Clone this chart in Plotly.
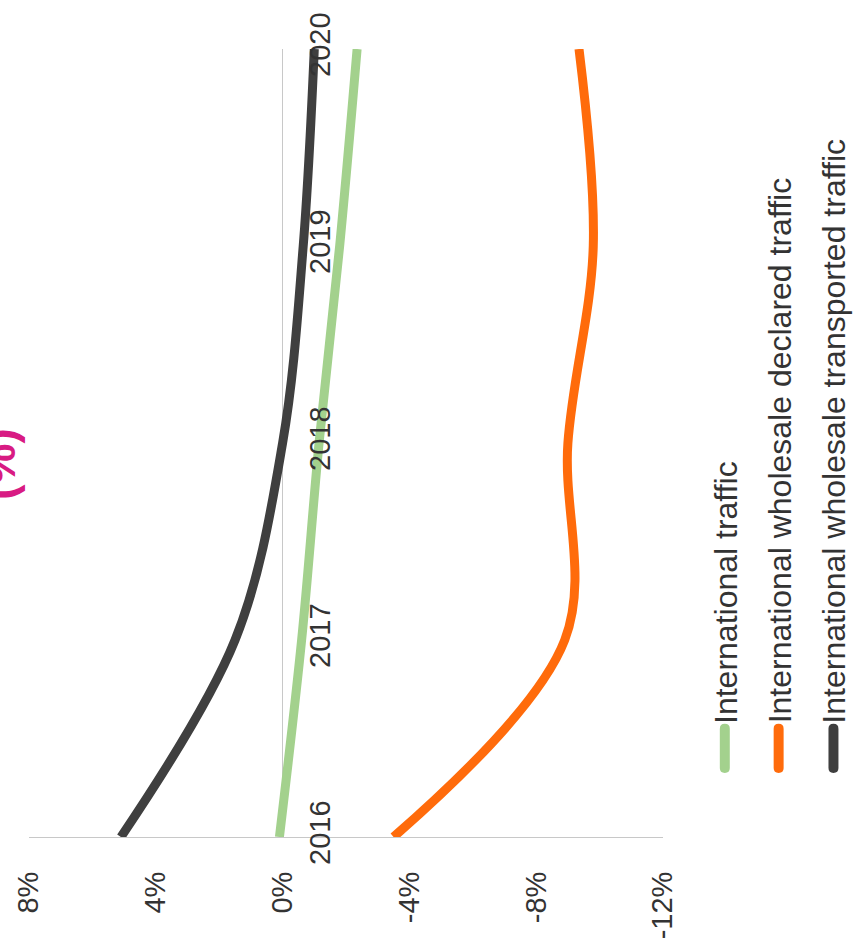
import plotly.graph_objects as go

# Year-on-year change of international traffic (%), drawn with years running bottom-to-top
years = [2016, 2017, 2018, 2019, 2020]
international_traffic = [0.1, -0.6, -1.15, -1.8, -2.35]
wholesale_declared = [-3.5, -8.9, -9.0, -9.8, -9.35]
wholesale_transported = [5.1, 1.5, 0.0, -0.65, -1.0]

series_names = [
    "International traffic",
    "International wholesale declared traffic",
    "International wholesale transported traffic",
]
series_values = [international_traffic, wholesale_declared, wholesale_transported]
series_colors = ["#a3d18d", "#ff6b0b", "#3f3f3f"]

pct_ticks = [8, 4, 0, -4, -8, -12]
pct_labels = ["8%", "4%", "0%", "-4%", "-8%", "-12%"]

W, H = 854, 951
M_L, M_R, M_T, M_B = 27, 191, 37, 114
PLOT_W = W - M_L - M_R
PLOT_H = H - M_T - M_B
FONT = "Liberation Sans, Arial, Helvetica, sans-serif"


def paper_x(px):
    return (px - M_L) / PLOT_W


def paper_y(py):
    return (H - M_B - py) / PLOT_H


fig = go.Figure()
for name, vals, color in zip(series_names, series_values, series_colors):
    fig.add_trace(go.Scatter(
        x=vals, y=years, name=name, mode="lines",
        line=dict(color=color, width=9, shape="spline", smoothing=1),
        showlegend=False,
    ))

# Rotated legend: a short rounded bar followed by the label reading upwards
legend_x = [725, 779, 834]
bar_top, bar_bottom, bar_half = 722, 772, 5
shapes = []
annotations = []
for xc, name, color in zip(legend_x, series_names, series_colors):
    x0, x1 = paper_x(xc - bar_half), paper_x(xc + bar_half)
    yt, yb = paper_y(bar_top), paper_y(bar_bottom)
    r = bar_half / PLOT_H
    xm = paper_x(xc)
    path = (f"M {x0} {yt - r} L {x0} {yb + r} Q {x0} {yb} {xm} {yb} "
            f"Q {x1} {yb} {x1} {yb + r} L {x1} {yt - r} Q {x1} {yt} {xm} {yt} "
            f"Q {x0} {yt} {x0} {yt - r} Z")
    shapes.append(dict(type="path", xref="paper", yref="paper", path=path,
                       fillcolor=color, line=dict(width=0)))
    annotations.append(dict(
        text=name, textangle=-90, xref="paper", yref="paper",
        x=paper_x(xc + 1), y=paper_y(bar_top + 2), xanchor="center", yanchor="bottom",
        showarrow=False, font=dict(family=FONT, size=32, color="#333333"),
    ))

# Title fragment at the left edge
annotations.append(dict(
    text="<b>(%)</b>", textangle=-90, xref="paper", yref="paper",
    x=paper_x(-3), y=paper_y(458), xanchor="center", yanchor="middle",
    showarrow=False, font=dict(family=FONT, size=46, color="#d81b83"),
))

fig.update_layout(
    width=W, height=H,
    margin=dict(l=M_L, r=M_R, t=M_T, b=M_B, pad=0),
    paper_bgcolor="white", plot_bgcolor="white",
    font=dict(family=FONT, color="#333333"),
    xaxis=dict(
        range=[8, -12], tickvals=pct_ticks, ticktext=pct_labels,
        tickangle=-90, tickfont=dict(size=29, color="#333333"),
        showgrid=False, zeroline=True, zerolinecolor="#c8c8c8", zerolinewidth=1,
        showline=True, linecolor="#c8c8c8", linewidth=1,
        ticks="", ticklabelstandoff=22,
    ),
    yaxis=dict(
        range=[2016, 2020], tickvals=years, ticktext=[str(y) for y in years],
        tickangle=-90, tickfont=dict(size=29, color="#333333"),
        anchor="free", position=0.4, side="right",
        showgrid=False, zeroline=False, showline=False, ticks="",
        ticklabelstandoff=17,
    ),
    shapes=shapes,
    annotations=annotations,
)

fig.write_html("out.html")
